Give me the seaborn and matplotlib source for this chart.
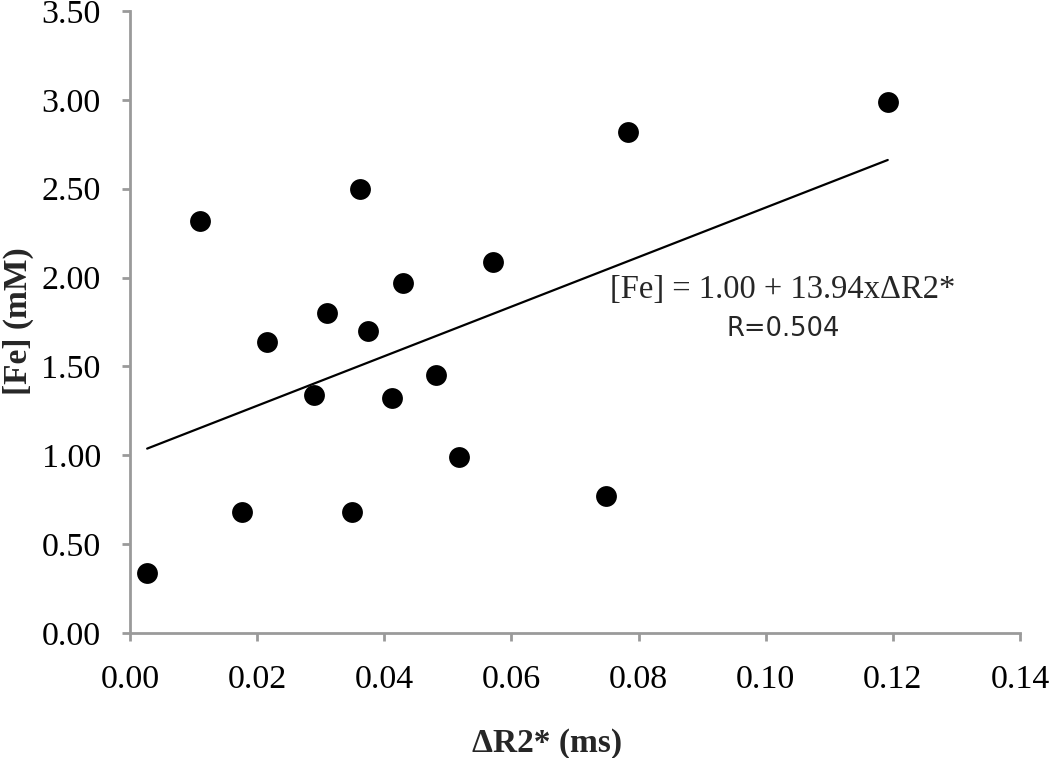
import numpy as np
import pandas as pd
import matplotlib
matplotlib.use("Agg")
import matplotlib.pyplot as plt
import seaborn as sns

# ── Data ──────────────────────────────────────────────────────────────────────
delta_r2 = [0.0027, 0.0110, 0.0176, 0.0216, 0.0289, 0.0310, 0.0349, 0.0362,
            0.0374, 0.0412, 0.0429, 0.0481, 0.0518, 0.0571, 0.0749, 0.0783, 0.1192]
fe_mM    = [0.34, 2.32, 0.68, 1.64, 1.34, 1.80, 0.68, 2.50,
            1.70, 1.32, 1.97, 1.45, 0.99, 2.09, 0.77, 2.82, 2.99]
fit_intercept = 1.00
fit_slope     = 13.94
fit_r         = 0.504

x_ticks = [0.00, 0.02, 0.04, 0.06, 0.08, 0.10, 0.12, 0.14]
y_ticks = [0.00, 0.50, 1.00, 1.50, 2.00, 2.50, 3.00, 3.50]

df = pd.DataFrame({'dr2': delta_r2, 'fe': fe_mM})

sns.set_style('white')
plt.rcParams['font.family'] = ['Liberation Serif', 'DejaVu Serif']

fig = plt.figure(figsize=(10.5, 7.58), dpi=100)
ax = fig.add_axes([0.1238, 0.1649, 0.8476, 0.8206])

sns.scatterplot(data=df, x='dr2', y='fe', ax=ax, s=225, color='black',
                edgecolor='black', linewidth=0, zorder=3)

# regression line over the data range
xl = np.array([min(delta_r2), max(delta_r2)])
ax.plot(xl, fit_intercept + fit_slope * xl, color='black', lw=1.6, zorder=2)

ax.set_xlim(0, 0.14)
ax.set_ylim(0, 3.5)
ax.set_xticks(x_ticks)
ax.set_yticks(y_ticks)
ax.set_xticklabels([f'{v:.2f}' for v in x_ticks])
ax.set_yticklabels([f'{v:.2f}' for v in y_ticks])

for side in ('top', 'right'):
    ax.spines[side].set_visible(False)
for side in ('left', 'bottom'):
    ax.spines[side].set_color('#9a9a9a')
    ax.spines[side].set_linewidth(2)
ax.tick_params(axis='both', which='major', bottom=True, left=True,
               direction='out', length=6, width=2,
               color='#9a9a9a', labelsize=24.5, labelcolor='black')
ax.tick_params(axis='y', pad=15)
ax.tick_params(axis='x', pad=17)

ax.set_xlabel('ΔR2* (ms)', fontsize=24, fontweight='bold')
ax.set_ylabel('[Fe] (mM)', fontsize=24, fontweight='bold')
ax.xaxis.set_label_coords(0.4685, -0.152)
ax.yaxis.set_label_coords(-0.108, 0.502)

ax.text(0.1027, 1.93, f'[Fe] = {fit_intercept:.2f} + {fit_slope:.2f}xΔR2*',
        ha='center', va='center', fontsize=23.5)
ax.text(0.1027, 1.71, f'R={fit_r:.3f}', ha='center', va='center', fontsize=18.5,
        family=['DejaVu Sans'])

fig.savefig('out.png', dpi=100)
